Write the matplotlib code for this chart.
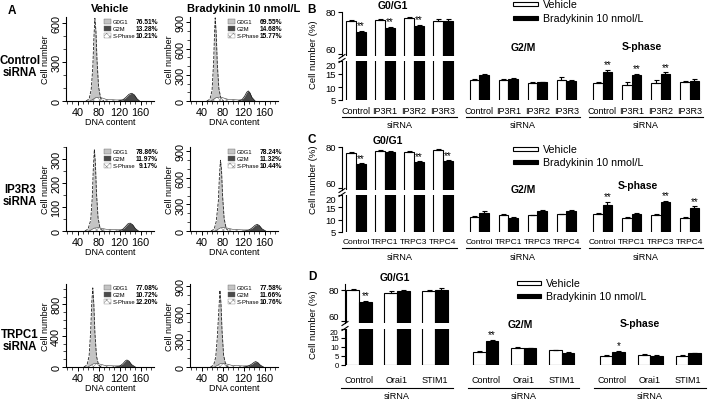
import matplotlib
matplotlib.use('Agg')
import matplotlib.pyplot as plt
import matplotlib.transforms as mtrans
from matplotlib.patches import Rectangle
from matplotlib.lines import Line2D
from matplotlib.ticker import MultipleLocator
import numpy as np

plt.rcParams['font.family'] = ['Liberation Sans', 'DejaVu Sans']
plt.rcParams['hatch.linewidth'] = 0.4
plt.rcParams['axes.linewidth'] = 0.8

W, H = 709, 402

# ---------------- panel A data (flow cytometry histograms) ----------------
hist_titles = ["Vehicle", "Bradykinin 10 nmol/L"]
row_labels = ["Control\nsiRNA", "IP3R3\nsiRNA", "TRPC1\nsiRNA"]
phase_names = ["G0G1", "G2M", "S-Phase"]
phase_pct = [
    ["76.51%", "13.28%", "10.21%"], ["69.55%", "14.68%", "15.77%"],
    ["78.86%", "11.97%", "9.17%"], ["78.24%", "11.32%", "10.44%"],
    ["77.08%", "10.72%", "12.20%"], ["77.58%", "11.66%", "10.76%"],
]
hist_ymax = [650, 960, 350, 950, 1060, 920]
hist_yticks = [[0, 300, 600], [0, 300, 600, 900], [0, 100, 200, 300],
               [0, 300, 600, 900], [0, 400, 800], [0, 300, 600, 900]]
hist_yminor = [100, 100, 50, 100, 100, 100]
x_ticks = [40, 80, 120, 160]

# G0/G1 peak
g1_x = [[56, 62, 66, 69, 71, 73, 75, 77, 80, 84, 90],
        [50, 56, 60, 63, 65, 66, 68, 70, 73, 77, 82],
        [54, 60, 65, 68, 70, 72, 74, 76, 79, 83, 88],
        [58, 64, 68, 72, 74, 76, 78, 80, 83, 87, 92],
        [52, 58, 62, 65, 67, 69, 71, 73, 76, 80, 85],
        [57, 63, 67, 70, 73, 75, 77, 79, 82, 86, 91]]
g1_y = [[0, 15, 90, 260, 480, 640, 540, 320, 110, 20, 0],
        [0, 20, 120, 450, 820, 950, 760, 420, 140, 25, 0],
        [0, 8, 45, 140, 260, 340, 280, 160, 55, 10, 0],
        [0, 20, 110, 340, 620, 800, 690, 400, 140, 25, 0],
        [0, 25, 140, 460, 820, 1010, 800, 440, 140, 25, 0],
        [0, 20, 110, 330, 640, 850, 700, 400, 130, 25, 0]]
# G2/M peak
g2_x = [[118, 126, 132, 138, 143, 148, 153, 158],
        [110, 117, 122, 126, 129, 132, 136, 142],
        [118, 125, 131, 136, 140, 145, 150, 156],
        [122, 130, 137, 142, 146, 150, 155, 162],
        [112, 120, 126, 131, 134, 138, 143, 150],
        [120, 128, 135, 140, 143, 147, 152, 158]]
g2_y = [[0, 8, 28, 52, 60, 48, 18, 0],
        [0, 15, 55, 100, 115, 95, 40, 0],
        [0, 5, 18, 30, 33, 26, 10, 0],
        [0, 10, 38, 65, 75, 62, 25, 0],
        [0, 10, 40, 78, 90, 75, 30, 0],
        [0, 8, 30, 52, 60, 50, 20, 0]]
# S-phase
s_x = [[64, 74, 82, 95, 115, 135, 150],
       [58, 68, 76, 90, 110, 125, 135],
       [62, 72, 80, 95, 115, 130, 145],
       [66, 76, 84, 100, 120, 140, 155],
       [60, 70, 78, 92, 110, 128, 142],
       [65, 75, 83, 98, 118, 136, 150]]
s_y = [[0, 25, 30, 12, 8, 10, 0],
       [0, 40, 45, 20, 12, 15, 0],
       [0, 12, 14, 7, 5, 6, 0],
       [0, 35, 40, 18, 12, 14, 0],
       [0, 40, 45, 20, 14, 16, 0],
       [0, 35, 40, 18, 12, 14, 0]]

# ---------------- panels B-D data (cell number %) ----------------
legend_labels = ["Vehicle", "Bradykinin 10 nmol/L"]
phase_titles = ["G0/G1", "G2/M", "S-phase"]

B_groups = ["Control", "IP3R1", "IP3R2", "IP3R3"]
B_veh = [[75.7, 76.3, 77.1, 75.6], [12.8, 12.7, 11.5, 12.7], [11.5, 10.9, 11.4, 11.9]]
B_bk = [[70.5, 72.4, 73.2, 75.6], [14.6, 13.1, 11.8, 12.3], [15.6, 14.6, 15.0, 12.2]]
B_veh_err = [[0.5, 0.4, 0.4, 1.0], [0.3, 0.3, 0.4, 1.0], [0.6, 0.9, 1.2, 0.6]]
B_bk_err = [[0.5, 0.5, 0.5, 1.0], [0.5, 0.5, 0.3, 0.5], [1.0, 0.3, 0.6, 0.8]]
B_stars = [["**", "**", "**", ""], ["", "", "", ""], ["**", "**", "**", ""]]

C_groups = ["Control", "TRPC1", "TRPC3", "TRPC4"]
C_veh = [[77.1, 78.2, 77.7, 78.5], [11.2, 11.8, 11.7, 12.1], [12.5, 10.8, 11.7, 10.8]]
C_bk = [[71.7, 77.7, 72.5, 73.0], [12.8, 10.8, 13.7, 13.4], [16.1, 12.5, 17.0, 14.8]]
C_veh_err = [[0.3, 0.3, 0.3, 0.3], [0.3, 0.4, 0.3, 0.4], [0.4, 0.3, 0.5, 0.3]]
C_bk_err = [[0.3, 0.3, 0.5, 0.5], [0.8, 0.2, 0.4, 0.6], [1.0, 0.4, 0.6, 0.6]]
C_stars = [["**", "", "**", "**"], ["", "", "", ""], ["**", "", "**", "**"]]

D_groups = ["Control", "Orai1", "STIM1"]
D_veh = [[80.0, 78.0, 79.2], [7.4, 9.7, 8.1], [5.2, 5.8, 5.2]]
D_bk = [[72.5, 79.2, 80.2], [13.5, 9.3, 6.8], [7.4, 5.2, 6.4]]
D_veh_err = [[0.4, 1.2, 0.6], [0.3, 0.4, 0.4], [0.3, 0.4, 0.3]]
D_bk_err = [[0.4, 0.5, 0.9], [0.4, 0.3, 0.3], [0.4, 0.3, 0.3]]
D_stars = [["**", "", ""], ["**", "", ""], ["*", "", ""]]

fig = plt.figure(figsize=(W / 100, H / 100), dpi=100)


def add_ax(left, top, right, bottom):
    return fig.add_axes([left / W, 1 - bottom / H, (right - left) / W, (bottom - top) / H])


def ftext(x, y, s, **kw):
    fig.text(x / W, 1 - y / H, s, **kw)


def frect(x, yc, w, h, **kw):
    fig.add_artist(Rectangle((x / W, 1 - (yc + h / 2) / H), w / W, h / H,
                             transform=fig.transFigure, **kw))


def fline(xs, ys, **kw):
    fig.add_artist(Line2D([x / W for x in xs], [1 - y / H for y in ys],
                          transform=fig.transFigure, **kw))


# ---------------- panel A ----------------
col_left = [66, 190]
row_box = [(18, 102), (148, 232), (285, 368)]
row_off = [0, 130, 266]

for i in range(6):
    r, c = divmod(i, 2)
    top, bot = row_box[r]
    ax = add_ax(col_left[c], top, col_left[c] + 87.7, bot)
    ax.fill_between(g1_x[i], g1_y[i], color='#c4c4c4', lw=0)
    ax.plot(g1_x[i], g1_y[i], color='#222222', lw=0.6, ls='--')
    ax.fill_between(s_x[i], s_y[i], facecolor='white', hatch='xxxxx',
                    edgecolor='#888888', lw=0)
    ax.plot(s_x[i], s_y[i], color='#444444', lw=0.4)
    ax.fill_between(g2_x[i], g2_y[i], color='#4a4a4a', lw=0)
    ax.plot(g2_x[i], g2_y[i], color='#111111', lw=0.5)
    ax.set_xlim(18, 185)
    ax.set_ylim(0, hist_ymax[i])
    ax.spines['top'].set_visible(False)
    ax.spines['right'].set_visible(False)
    ax.set_xticks(x_ticks)
    ax.xaxis.set_minor_locator(MultipleLocator(10))
    ax.set_yticks(hist_yticks[i])
    ax.yaxis.set_minor_locator(MultipleLocator(hist_yminor[i]))
    ax.tick_params(which='major', length=3, width=0.7, labelsize=7.8, pad=1)
    ax.tick_params(which='minor', length=2, width=0.5)
    ax.tick_params(axis='y', labelrotation=90, pad=0.5)
    for lab in ax.get_yticklabels():
        lab.set_va('center')
    ax.set_ylabel("Cell number", fontsize=6.5, labelpad=0.5)
    ax.set_xlabel("DNA content", fontsize=6.5, labelpad=0)

    # in-plot phase legend
    off_x = c * 124
    for k in range(3):
        yc = [22.5, 29.5, 36.5][k] + row_off[r]
        if k == 2:
            frect(104 + off_x, yc, 7, 5, facecolor='white', edgecolor='#888888',
                  hatch='xxxxx', lw=0.3)
        else:
            frect(104 + off_x, yc, 7, 5, facecolor=['#c4c4c4', '#4a4a4a'][k],
                  edgecolor='#666666', lw=0.3)
        ftext(113 + off_x, yc, phase_names[k], fontsize=4.2, va='center', ha='left')
        ftext(158 + off_x, yc, phase_pct[i][k], fontsize=4.8, weight='bold',
              va='center', ha='right')

ftext(110, 9, hist_titles[0], fontsize=8, weight='bold', ha='center', va='center')
ftext(244, 9, hist_titles[1], fontsize=8, weight='bold', ha='center', va='center')
for r, yc in enumerate([67, 196, 341]):
    ftext(20, yc, row_labels[r], fontsize=8.3, weight='bold', ha='center',
          va='center', linespacing=1.1)


# ---------------- panels B-D ----------------
def bar_panel(g, groups, veh, bk, veh_err, bk_err, stars):
    n = len(groups)
    su = (g['y60'] - g['y80']) / 20.0
    ax_u = add_ax(g['sx'], g['top'], g['right'], g['ub'])
    ax_u.set_ylim(60 - (g['ub'] - g['y60']) / su, 80 + (g['y80'] - g['top']) / su)
    ax_l = add_ax(g['sx'], g['y20'], g['right'], g['lb'])
    ax_l.set_ylim(g['lmin'], 20)
    xl = ((g['sx'] - g['c0']) / g['u'], (g['right'] - g['c0']) / g['u'])
    w = 0.33
    for ax in (ax_u, ax_l):
        ax.set_xlim(*xl)
        ax.patch.set_visible(False)
        for sp in ('top', 'right', 'bottom'):
            ax.spines[sp].set_visible(False)
        ax.set_xticks([])
        ax.tick_params(axis='y', length=3, width=0.8, labelsize=6.8, pad=1.5)
    ax_l.tick_params(axis='y', labelsize=g['lfs'])
    ax_u.set_yticks([60, 80])
    ax_l.set_yticks(g['lticks'])
    # keep the two labels around the break apart
    ax_u.get_yticklabels()[0].set_va('bottom')
    ax_l.get_yticklabels()[-1].set_va('top')
    trans = mtrans.blended_transform_factory(ax_l.transData, fig.transFigure)
    for k in range(3):
        pos = np.arange(n) + g['off'][k]
        for ax in ((ax_u, ax_l) if k == 0 else (ax_l,)):
            ax.bar(pos - w / 2, veh[k], w, color='white', edgecolor='black', lw=0.8)
            ax.bar(pos + w / 2, bk[k], w, color='black', edgecolor='black', lw=0.8)
        tgt = ax_u if k == 0 else ax_l
        tgt.errorbar(pos - w / 2, veh[k], yerr=[np.zeros(n), veh_err[k]], fmt='none',
                     ecolor='black', elinewidth=0.8, capsize=1.8, capthick=0.8)
        tgt.errorbar(pos + w / 2, bk[k], yerr=[np.zeros(n), bk_err[k]], fmt='none',
                     ecolor='black', elinewidth=0.8, capsize=1.8, capthick=0.8)
        for i in range(n):
            if stars[k][i]:
                tgt.annotate(stars[k][i], xy=(pos[i] + w / 2, bk[k][i] + bk_err[k][i]),
                             xytext=(0, 0.5), textcoords='offset points',
                             ha='center', va='bottom', fontsize=7)
            ax_l.text(pos[i], 1 - g['ly'] / H, groups[i], transform=trans,
                      ha='center', va='center', fontsize=g['fs'])
        ax_l.plot([pos[0] - 0.47, pos[-1] + 0.47], [1 - g['uly'] / H] * 2,
                  transform=trans, color='black', lw=0.8, clip_on=False)
        ax_l.text(pos.mean(), 1 - g['sy'] / H, "siRNA", transform=trans,
                  ha='center', va='center', fontsize=6.6)
        tx, ty = g['titles'][k]
        ftext(tx, ty, phase_titles[k], fontsize=7.5, weight='bold', ha='center', va='center')
    # axis break marks
    for yb in (g['ub'] + 0.5, g['y20'] - 0.5):
        fline([g['sx'] - 3, g['sx'] + 3], [yb + 2, yb - 2], color='black', lw=0.8)
    ftext(g['ylx'], g['yly'], "Cell number (%)", fontsize=6.8, rotation=90,
          ha='center', va='center')
    ftext(312, g['lety'], g['letter'], fontsize=8.5, weight='bold', ha='center', va='center')
    # legend
    lx, lw_, ly0, ly1 = g['leg']
    frect(lx, ly0, lw_, 4, facecolor='white', edgecolor='black', lw=0.8)
    frect(lx, ly1, lw_, 4, facecolor='black', edgecolor='black', lw=0.8)
    ftext(lx + lw_ + 5, ly0, legend_labels[0], fontsize=7.7, va='center', ha='left')
    ftext(lx + lw_ + 5, ly1, legend_labels[1], fontsize=7.7, va='center', ha='left')


geom_B = dict(sx=342, right=702, c0=356, u=29, off=[0, 4.25, 8.5],
              top=13, y80=13, y60=55, ub=57, y20=62, lb=101, lmin=5, lticks=[5, 10, 15, 20],
              ly=112, uly=118, sy=126, fs=6.5, lfs=6.8,
              titles=[(393, 6), (523, 48), (642, 47)],
              ylx=313, yly=55, letter="B", lety=10, leg=(513, 25, 5, 19))
geom_C = dict(sx=342, right=702, c0=356, u=29, off=[0, 4.25, 8.5],
              top=148, y80=148, y60=189, ub=191, y20=196, lb=233, lmin=5, lticks=[5, 10, 15, 20],
              ly=243, uly=249, sy=257, fs=6.0, lfs=6.8,
              titles=[(388, 141), (523, 190), (638, 186)],
              ylx=313, yly=180, letter="C", lety=140, leg=(513, 25, 150, 163))
geom_D = dict(sx=345, right=705, c0=359, u=38, off=[0, 3.33, 6.66],
              top=285, y80=291, y60=322, ub=324, y20=330, lb=366, lmin=0,
              lticks=[0, 5, 10, 15, 20],
              ly=381, uly=389, sy=397, fs=6.5, lfs=5.6,
              titles=[(395, 278), (520, 325), (640, 324)],
              ylx=313, yly=325, letter="D", lety=277, leg=(517, 24, 284, 297))

bar_panel(geom_B, B_groups, B_veh, B_bk, B_veh_err, B_bk_err, B_stars)
bar_panel(geom_C, C_groups, C_veh, C_bk, C_veh_err, C_bk_err, C_stars)
bar_panel(geom_D, D_groups, D_veh, D_bk, D_veh_err, D_bk_err, D_stars)

ftext(12, 11, "A", fontsize=8.5, weight='bold', ha='center', va='center')

fig.savefig("out.png", dpi=100)
